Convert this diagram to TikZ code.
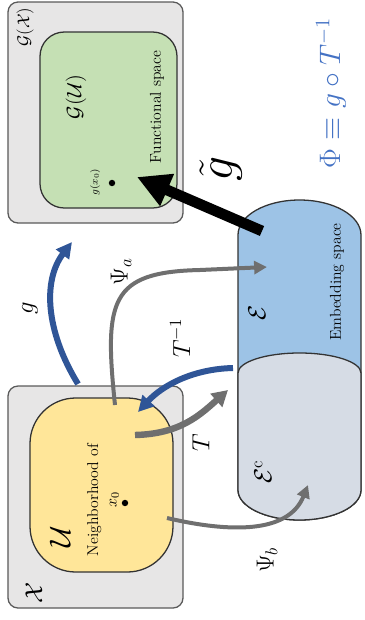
\documentclass[tikz,border=0pt]{standalone}
\usepackage{tikz}
\usetikzlibrary{arrows.meta,positioning}
\definecolor{boxgrey}{HTML}{E7E6E6}
\definecolor{boxedge}{HTML}{5A5A5A}
\definecolor{funcgreen}{HTML}{C5E0B4}
\definecolor{nbhdyellow}{HTML}{FFE699}
\definecolor{embblue}{HTML}{9DC3E6}
\definecolor{compgrey}{HTML}{D6DCE5}
\definecolor{mapblue}{HTML}{2F5597}
\definecolor{mapgrey}{HTML}{6F6F6F}
\definecolor{formulablue}{HTML}{4472C4}
\tikzstyle{spacebox}=[draw=boxedge,fill=boxgrey,rounded corners=7pt,line width=0.9pt]
\tikzstyle{funcbox}=[draw=black!80,fill=funcgreen,rounded corners=17pt,line width=0.9pt]
\tikzstyle{nbhd}=[draw=black!80,fill=nbhdyellow,rounded corners=32pt,line width=0.9pt]
\tikzstyle{cyl}=[draw=black!80,line width=0.9pt]
\tikzstyle{lbl}=[rotate=90,inner sep=1pt]
\tikzstyle{txt}=[lbl,font=\fontsize{11}{13}\selectfont]
\tikzstyle{dot}=[circle,fill=black,inner sep=0pt,minimum size=4.5pt]
\tikzstyle{bluemap}=[draw=mapblue,line width=4.2pt,-{Triangle[length=11pt,width=11pt]}]
\tikzstyle{greymap}=[draw=mapgrey,line width=2.8pt,-{Triangle[length=9pt,width=9pt]}]

\begin{document}
\begin{tikzpicture}[x=0.7pt,y=-0.7pt]
  \useasboundingbox (0,0) rectangle (364,620);

  \node[spacebox,minimum width=122.5pt,minimum height=155.4pt] (X)  at (95.5,497)   {};
  \node[spacebox,minimum width=122.5pt,minimum height=154.7pt] (GX) at (95.5,112.5) {};
  \node[nbhd,minimum width=100.1pt,minimum height=121.8pt]     (U)  at (101.5,485)  {};
  \node[funcbox,minimum width=95.9pt,minimum height=123.2pt]   (GU) at (108.5,120)  {};

  \path[cyl,fill=embblue] (238,235) arc[start angle=180,end angle=360,x radius=61.5,y radius=35]
    -- (361,490) arc[start angle=0,end angle=180,x radius=61.5,y radius=30] -- cycle;
  \path[cyl,fill=compgrey] (238,373) arc[start angle=180,end angle=360,x radius=61.5,y radius=20]
    -- (361,490) arc[start angle=0,end angle=180,x radius=61.5,y radius=30] -- cycle;

  \node[lbl,font=\LARGE]  (Xlab)   at (34,593)  {$\mathcal{X}$};
  \node[lbl,font=\huge]   (Ulab)   at (60,537)  {$\mathcal{U}$};
  \node[txt,align=center] (nbhdlab) at (103,500) {Neighborhood of\\$x_0$};
  \node[dot]              (x0)     at (125,503) {};
  \node[lbl,font=\large]  (GXlab)  at (25,27)   {$\mathcal{G}(\mathcal{X})$};
  \node[lbl,font=\Large]  (GUlab)  at (76,97)   {$\mathcal{G}(\mathcal{U})$};
  \node[txt]              (funclab) at (157,107) {Functional space};
  \node[lbl,font=\scriptsize] (gx0lab) at (95,182) {$g(x_0)$};
  \node[dot]              (gx0)    at (112,183) {};
  \node[lbl,font=\LARGE]  (Elab)   at (257,313) {$\mathcal{E}$};
  \node[txt]              (emblab) at (337,282) {Embedding space};
  \node[lbl,font=\LARGE]  (Eclab)  at (263,472) {$\mathcal{E}^{\mathrm{c}}$};
  \node[lbl,font=\fontsize{21}{25}\selectfont,text=formulablue] (phi) at (331,93) {$\Phi\equiv g\circ T^{-1}$};

  \coordinate (gs)   at (78,384);
  \coordinate (ge)   at (72,242);
  \coordinate (pas)  at (115,405);
  \coordinate (pae)  at (267,267);
  \coordinate (tis)  at (233,368);
  \coordinate (tie)  at (138,412);
  \coordinate (ts)   at (135,435);
  \coordinate (te)   at (228,390);
  \coordinate (pbs)  at (167,518);
  \coordinate (pbe)  at (308,485);
  \coordinate (gts)  at (262,231);
  \coordinate (gte)  at (137,177);

  \draw[bluemap] (gs) .. controls (45,330) and (43,280) .. (ge);
  \draw[greymap] (pas) .. controls (104,300) and (110,272) .. (200,270) -- (pae);
  \draw[bluemap] (tis) .. controls (192,369) and (162,386) .. (tie);
  \draw[greymap,line width=4.5pt,-{Triangle[length=11pt,width=12pt]}] (ts) .. controls (180,434) and (200,415) .. (te);
  \draw[greymap] (pbs) .. controls (240,535) and (290,530) .. (pbe);
  \draw[line width=7.5pt,-{Triangle[length=23pt,width=23pt]}] (gts) -- (gte);

  \node[lbl,font=\LARGE] (glab)    at (30,308)  {$g$};
  \node[lbl,font=\LARGE] (psialab) at (121,272) {$\Psi_a$};
  \node[lbl,font=\LARGE] (tinvlab) at (180,338) {$T^{-1}$};
  \node[lbl,font=\LARGE] (tlab)    at (201,443) {$T$};
  \node[lbl,font=\LARGE] (psiblab) at (267,560) {$\Psi_b$};
  \node[lbl,font=\Huge,scale=1.4] (gtlab) at (221,169) {$\tilde{g}$};
\end{tikzpicture}
\end{document}
